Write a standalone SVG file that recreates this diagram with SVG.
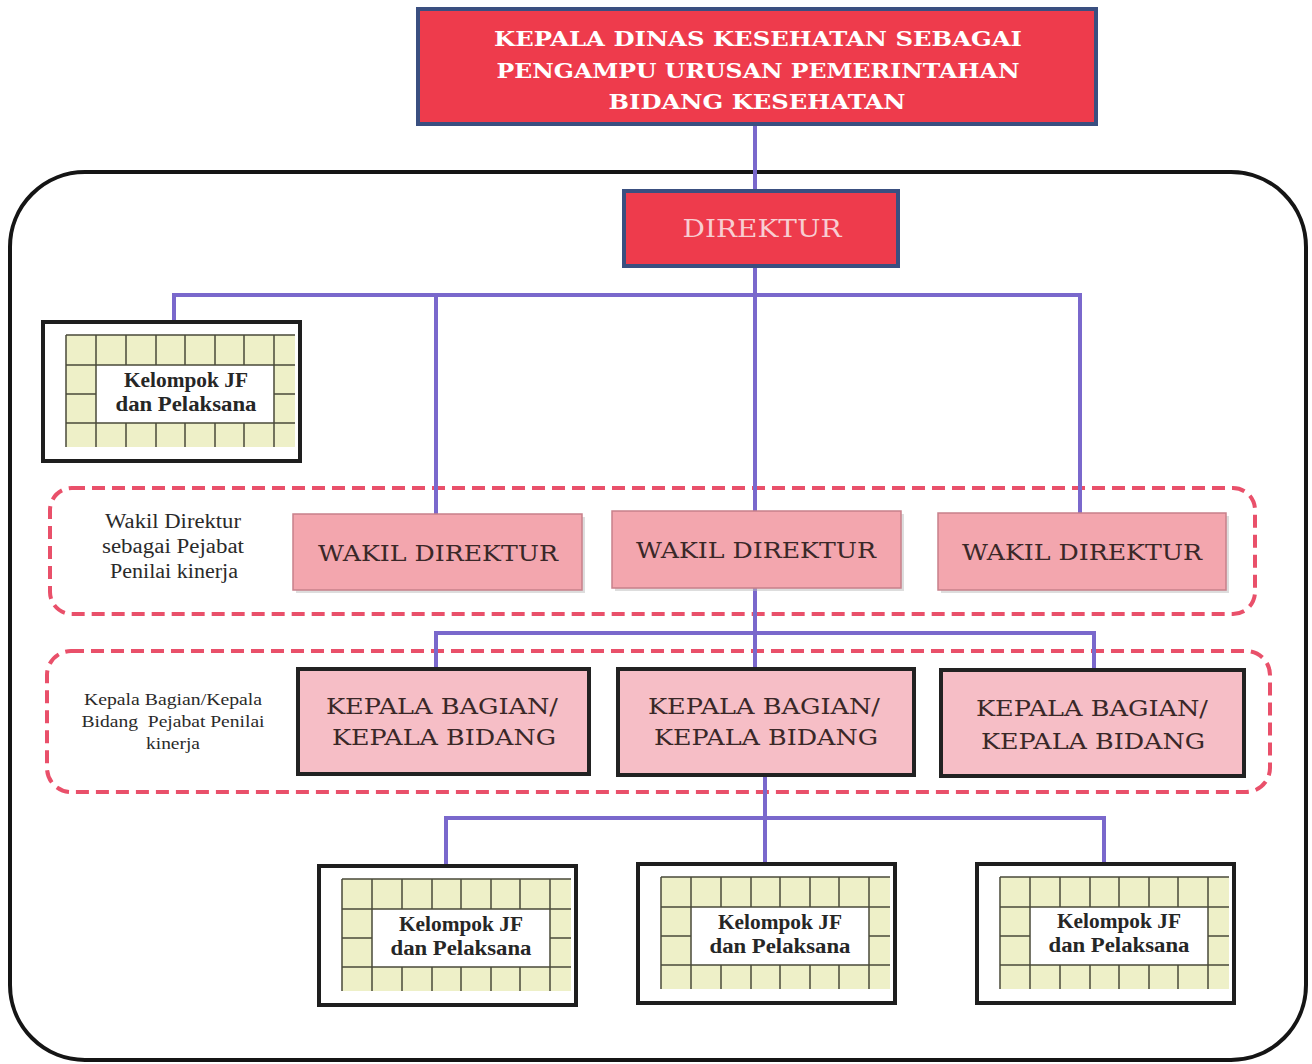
<svg xmlns="http://www.w3.org/2000/svg" width="1312" height="1064" viewBox="0 0 1312 1064">
<style>
.top{fill:#ee3b4c;stroke:#3a4f80;stroke-width:4}
.toptxt{font-family:"DejaVu Serif","Liberation Serif",serif;font-weight:bold;font-size:21px;fill:#ffffff;text-anchor:middle}
.dirtxt{font-family:"DejaVu Serif","Liberation Serif",serif;font-size:24px;fill:#f8cdd1;text-anchor:middle}
.wakil{fill:#f3a6ae;stroke:#c7808a;stroke-width:1.5}
.shadow{fill:#bbbbbb;opacity:0.5}
.kep{fill:#f6bec6;stroke:#222222;stroke-width:4}
.boxtxt{font-family:"DejaVu Serif","Liberation Serif",serif;font-size:22px;fill:#3a2828;text-anchor:middle}
.lbl{font-family:"Liberation Serif","DejaVu Serif",serif;fill:#2a2a2a;text-anchor:middle}
.jftxt{font-family:"Liberation Serif","DejaVu Serif",serif;font-weight:bold;font-size:20px;fill:#262626;text-anchor:middle}
.dash{fill:none;stroke:#e9506a;stroke-width:4;stroke-dasharray:13 7}
.conn{fill:none;stroke:#7a68cc;stroke-width:4}
.gl{stroke:#4a4a3a;stroke-width:1.5;fill:none}
</style>
<defs>
<g id="jf">
<rect x="0" y="0" width="257" height="139" fill="#ffffff" stroke="#1e1e1e" stroke-width="4"/>
<rect x="23" y="13" width="229" height="112" fill="#eef0c8"/>
<rect x="53" y="43" width="178" height="58" fill="#ffffff"/>
<path class="gl" d="M23 13H252M23 43H252M23 101H252M23 72H53M231 72H252M23 13V125M53 13V125M231 13V125M83 13V43M113 13V43M142 13V43M172 13V43M201 13V43M83 101V125M113 101V125M142 101V125M172 101V125M201 101V125"/>
</g>
</defs>
<rect width="1312" height="1064" fill="#ffffff"/>
<rect x="10" y="172" width="1296" height="888" rx="75" ry="75" fill="none" stroke="#151515" stroke-width="4"/>
<rect class="dash" x="50" y="488" width="1205" height="126" rx="22" ry="22"/>
<rect class="dash" x="47" y="651" width="1223" height="141" rx="24" ry="24"/>
<g id="connectors">
<path class="conn" d="M755 124V190"/>
<path class="conn" d="M755 266V512"/>
<path class="conn" d="M174 322V295H1080V514M436 295V514"/>
<path class="conn" d="M755 588V633"/>
<path class="conn" d="M436 668V633H1094V668M755 633V668"/>
<path class="conn" d="M765 775V818"/>
<path class="conn" d="M446 866V818H1104V864M765 818V864"/>
</g>
<g id="kepala-dinas">
<rect class="top" x="418" y="9" width="678" height="115"/>
<text class="toptxt" x="758" y="46" textLength="528" lengthAdjust="spacingAndGlyphs">KEPALA DINAS KESEHATAN SEBAGAI</text>
<text class="toptxt" x="758" y="78" textLength="523" lengthAdjust="spacingAndGlyphs">PENGAMPU URUSAN PEMERINTAHAN</text>
<text class="toptxt" x="757" y="109" textLength="297" lengthAdjust="spacingAndGlyphs">BIDANG KESEHATAN</text>
</g>
<g id="direktur">
<rect class="top" x="624" y="191" width="274" height="75"/>
<text class="dirtxt" x="762" y="237" textLength="159" lengthAdjust="spacingAndGlyphs">DIREKTUR</text>
</g>
<g id="label-wakil">
<text class="lbl" font-size="20" x="173" y="528" textLength="136" lengthAdjust="spacingAndGlyphs">Wakil Direktur</text>
<text class="lbl" font-size="20" x="173" y="553" textLength="142" lengthAdjust="spacingAndGlyphs">sebagai Pejabat</text>
<text class="lbl" font-size="20" x="174" y="578" textLength="128" lengthAdjust="spacingAndGlyphs">Penilai kinerja</text>
</g>
<g id="label-kepala">
<text class="lbl" font-size="17" x="173" y="705" textLength="178" lengthAdjust="spacingAndGlyphs">Kepala Bagian/Kepala</text>
<text class="lbl" font-size="17" x="173" y="727" textLength="183" lengthAdjust="spacingAndGlyphs" xml:space="preserve">Bidang  Pejabat Penilai</text>
<text class="lbl" font-size="17" x="173" y="749" textLength="54" lengthAdjust="spacingAndGlyphs">kinerja</text>
</g>
<g id="wakil-1">
<rect class="shadow" x="296" y="517" width="289" height="76"/>
<rect class="wakil" x="293" y="514" width="289" height="76"/>
<text class="boxtxt" x="438" y="561" textLength="240" lengthAdjust="spacingAndGlyphs">WAKIL DIREKTUR</text>
</g>
<g id="wakil-2">
<rect class="shadow" x="615" y="514" width="289" height="77"/>
<rect class="wakil" x="612" y="511" width="289" height="77"/>
<text class="boxtxt" x="756" y="558" textLength="240" lengthAdjust="spacingAndGlyphs">WAKIL DIREKTUR</text>
</g>
<g id="wakil-3">
<rect class="shadow" x="941" y="516" width="288" height="77"/>
<rect class="wakil" x="938" y="513" width="288" height="77"/>
<text class="boxtxt" x="1082" y="560" textLength="240" lengthAdjust="spacingAndGlyphs">WAKIL DIREKTUR</text>
</g>
<g id="kepala-1">
<rect class="kep" x="298" y="669" width="291" height="105"/>
<text class="boxtxt" x="442" y="714" textLength="232" lengthAdjust="spacingAndGlyphs">KEPALA BAGIAN/</text>
<text class="boxtxt" x="444" y="745" textLength="224" lengthAdjust="spacingAndGlyphs">KEPALA BIDANG</text>
</g>
<g id="kepala-2">
<rect class="kep" x="618" y="669" width="296" height="106"/>
<text class="boxtxt" x="764" y="714" textLength="232" lengthAdjust="spacingAndGlyphs">KEPALA BAGIAN/</text>
<text class="boxtxt" x="766" y="745" textLength="224" lengthAdjust="spacingAndGlyphs">KEPALA BIDANG</text>
</g>
<g id="kepala-3">
<rect class="kep" x="941" y="670" width="303" height="106"/>
<text class="boxtxt" x="1092" y="716" textLength="232" lengthAdjust="spacingAndGlyphs">KEPALA BAGIAN/</text>
<text class="boxtxt" x="1093" y="749" textLength="224" lengthAdjust="spacingAndGlyphs">KEPALA BIDANG</text>
</g>
<g id="jf-0">
<use href="#jf" x="43" y="322"/>
<text class="jftxt" x="186" y="387" textLength="124" lengthAdjust="spacingAndGlyphs">Kelompok JF</text>
<text class="jftxt" x="186" y="411" textLength="141" lengthAdjust="spacingAndGlyphs">dan Pelaksana</text>
</g>
<g id="jf-1">
<use href="#jf" x="319" y="866"/>
<text class="jftxt" x="461" y="931" textLength="124" lengthAdjust="spacingAndGlyphs">Kelompok JF</text>
<text class="jftxt" x="461" y="955" textLength="141" lengthAdjust="spacingAndGlyphs">dan Pelaksana</text>
</g>
<g id="jf-2">
<use href="#jf" x="638" y="864"/>
<text class="jftxt" x="780" y="929" textLength="124" lengthAdjust="spacingAndGlyphs">Kelompok JF</text>
<text class="jftxt" x="780" y="953" textLength="141" lengthAdjust="spacingAndGlyphs">dan Pelaksana</text>
</g>
<g id="jf-3">
<use href="#jf" x="977" y="864"/>
<text class="jftxt" x="1119" y="928" textLength="124" lengthAdjust="spacingAndGlyphs">Kelompok JF</text>
<text class="jftxt" x="1119" y="952" textLength="141" lengthAdjust="spacingAndGlyphs">dan Pelaksana</text>
</g>
</svg>
